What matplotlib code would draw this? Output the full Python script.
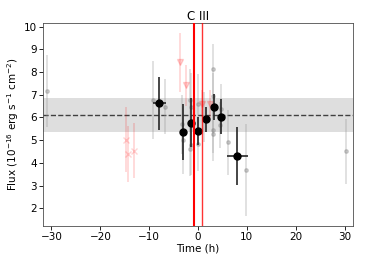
import numpy as np
import matplotlib
matplotlib.use('Agg')
import matplotlib.pyplot as plt

# binned fluxes (black)
bin_t = [-7.9, -3.0, -1.5, 0.0, 1.6, 3.3, 4.8, 8.05]
bin_terr = [1.4, 0.0, 0.0, 0.0, 0.0, 0.0, 0.0, 2.1]
bin_f = [6.62, 5.36, 5.77, 5.42, 5.93, 6.46, 6.03, 4.29]
bin_ferr = [1.16, 1.24, 1.08, 0.62, 0.55, 0.58, 0.78, 1.27]

# individual exposures (grey)
exp_t = [-30.9, -9.2, -6.8, -3.2, -3.0, -1.6, -1.5, -1.6, -1.4, -0.1, 0.0,
         1.3, 3.0, 3.1, 3.0, 3.0, 4.7, 4.6, 6.2, 9.9, 30.4]
exp_f = [7.16, 6.78, 6.48, 5.69, 5.02, 6.75, 6.46, 4.62, 4.78, 6.6, 4.82,
         6.0, 8.13, 6.95, 5.45, 5.28, 6.37, 5.66, 4.91, 3.67, 4.52]
exp_ferr = [1.57, 1.72, 1.2, 1.3, 1.5, 1.4, 1.5, 1.2, 1.3, 1.3, 1.2,
            1.1, 1.1, 1.0, 1.0, 1.2, 1.1, 1.0, 1.43, 2.03, 1.43]

# flagged exposures (pink crosses)
bad_t = [-14.7, -14.35, -13.2]
bad_f = [5.02, 4.39, 4.54]
bad_ferr = [1.42, 1.22, 1.2]

# upper limits (pink triangles)
lim_t = [-3.6, -2.4, 0.75, 2.4]
lim_f = [8.43, 7.41, 6.6, 6.59]
lim_ferr = [1.3, 0.9, 0.6, 0.6]

mean_flux = 6.12
mean_err = 0.74
transit = [-0.75, 0.75]


def main():
    fig = plt.figure(figsize=(3.66, 2.64), dpi=100)
    ax = fig.add_axes([0.118, 0.144, 0.846, 0.768])
    fs = 7.5

    ax.axhspan(mean_flux - mean_err, mean_flux + mean_err, color='0.87', lw=0, zorder=0)
    ax.axhline(mean_flux, color='0.25', ls='--', lw=1, zorder=1)

    ax.errorbar(exp_t, exp_f, yerr=exp_ferr, fmt='o', ms=2.5, color='grey', alpha=0.35,
                ecolor='0.6', elinewidth=1.2, zorder=2)
    ax.errorbar(bad_t, bad_f, yerr=bad_ferr, fmt='x', ms=4, color='red', alpha=0.17,
                elinewidth=1.2, zorder=2)
    ax.errorbar(lim_t, lim_f, yerr=lim_ferr, fmt='v', ms=4, color='red', alpha=0.17,
                elinewidth=1.2, zorder=2)

    ax.errorbar(bin_t, bin_f, xerr=bin_terr, yerr=bin_ferr, fmt='o', ms=5, color='black',
                ecolor='0.15', elinewidth=1.2, zorder=4)

    ax.axvline(transit[0], color='red', lw=1.5, zorder=5)
    ax.axvline(transit[1], color='red', lw=1.0, alpha=0.8, zorder=5)

    ax.set_xlim(-31.7, 31.7)
    ax.set_ylim(1.22, 10.15)
    ax.set_yticks(range(2, 11))
    ax.tick_params(labelsize=fs, length=3, width=0.6, pad=1.5)
    for s in ax.spines.values():
        s.set_linewidth(0.6)
        s.set_color('0.3')
    ax.set_xlabel('Time (h)', fontsize=fs, labelpad=1)
    ax.set_ylabel(r'Flux ($10^{-16}$ erg s$^{-1}$ cm$^{-2}$)', fontsize=fs, labelpad=2)
    ax.set_title('C III', fontsize=8.5, pad=2)

    fig.savefig('out.png', dpi=100)


if __name__ == '__main__':
    main()
